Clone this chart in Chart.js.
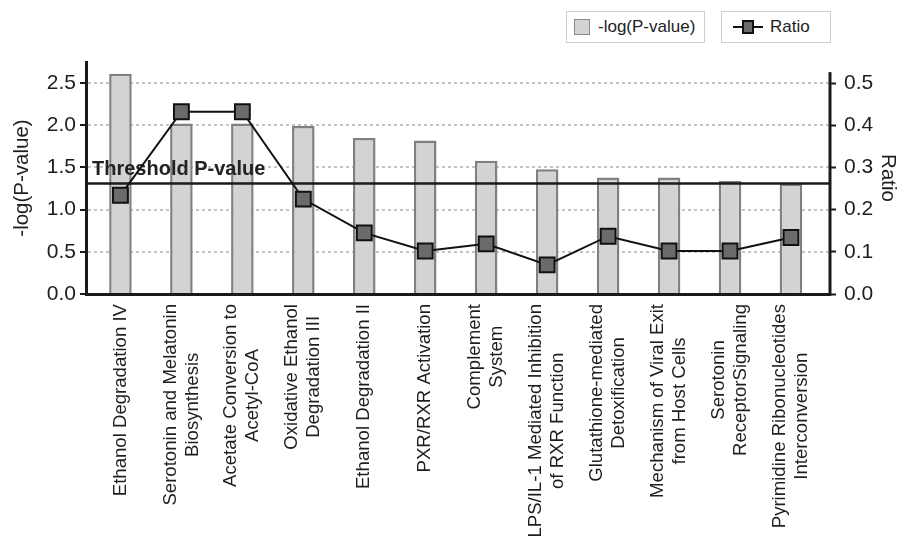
<!DOCTYPE html>
<html>
<head>
<meta charset="utf-8">
<script src="https://cdn.jsdelivr.net/npm/chart.js@4.4.1/dist/chart.umd.min.js"></script>
<style>
  html, body { margin: 0; padding: 0; background: #fff; }
  #wrap { position: relative; width: 900px; height: 540px; font-family: "Liberation Sans", Arial, sans-serif; }
  canvas { position: absolute; left: 0; top: 0; }
  .lg { position: absolute; top: 11px; height: 32px; border: 1.5px solid #cfcfcf; background: #fff;
        display: flex; align-items: center; font-size: 17px; color: #222; box-sizing: border-box; }
  .sw { width: 16px; height: 16px; background: #d3d3d3; border: 1.5px solid #8a8a8a; box-sizing: border-box; margin: 0 8px 0 7px; }
  .ln { position: relative; width: 30px; height: 16px; margin: 0 7px 0 11px; }
  .ln::before { content: ""; position: absolute; left: 0; right: 0; top: 7px; height: 2px; background: #111; }
  .ln::after { content: ""; position: absolute; left: 9px; top: 1px; width: 12px; height: 14px; background: #6b6b6b;
               border: 2px solid #111; box-sizing: border-box; }
</style>
</head>
<body>
<div id="wrap">
  <canvas id="chart" width="900" height="540"></canvas>
  <div class="lg" style="left:566px; width:139px;"><span class="sw"></span>-log(P-value)</div>
  <div class="lg" style="left:721px; width:110px;"><span class="ln"></span>Ratio</div>
</div>
<script>
// Canonical pathways, their -log(P-value) and the overlap ratio
const categories = [
  ['Ethanol Degradation IV'],
  ['Serotonin and Melatonin', 'Biosynthesis'],
  ['Acetate Conversion to', 'Acetyl-CoA'],
  ['Oxidative Ethanol', 'Degradation III'],
  ['Ethanol Degradation II'],
  ['PXR/RXR Activation'],
  ['Complement', 'System'],
  ['LPS/IL-1 Mediated Inhibition', 'of RXR Function'],
  ['Glutathione-mediated', 'Detoxification'],
  ['Mechanism of Viral Exit', 'from Host Cells'],
  ['Serotonin', 'ReceptorSignaling'],
  ['Pyrimidine Ribonucleotides', 'Interconversion']
];
const negLogP = [2.61, 2.02, 2.02, 1.99, 1.85, 1.82, 1.58, 1.48, 1.38, 1.38, 1.34, 1.31];
const ratio = [0.234, 0.432, 0.432, 0.225, 0.145, 0.102, 0.119, 0.069, 0.137, 0.102, 0.102, 0.134];
const thresholdP = 1.31;           // significance cut-off on the -log(P) axis
const leftAxisMax = 2.75;
const leftAxisStep = 0.5;
const rightAxisMax = 0.55;
const rightAxisStep = 0.1;
const rightAxisLineTop = 0.526;    // right spine stops a little below the plot top
// category slots run from index 0 to 11; the frame leaves a little more room on the right
const xMin = -0.565;
const xMax = categories.length - 1 + 0.64;

const FONT = '"Liberation Sans", Arial, sans-serif';
const INK = '#1e1e1e';

const overlay = {
  id: 'overlay',
  afterDatasetDraw(chart, args) {
    if (args.index !== 0) return;
    const { ctx, chartArea, scales } = chart;
    const py = scales.y.getPixelForValue(thresholdP);
    ctx.save();
    ctx.strokeStyle = '#1a1a1a';
    ctx.lineWidth = 2.5;
    ctx.beginPath();
    ctx.moveTo(chartArea.left, py);
    ctx.lineTo(chartArea.right, py);
    ctx.stroke();
    ctx.font = 'bold 20px ' + FONT;
    ctx.fillStyle = '#222';
    ctx.textAlign = 'left';
    ctx.textBaseline = 'alphabetic';
    ctx.fillText('Threshold P-value', chartArea.left + 6, py - 8);
    ctx.restore();
  },
  afterDraw(chart) {
    const { ctx, chartArea, scales } = chart;
    ctx.save();
    // right spine
    ctx.strokeStyle = '#1a1a1a';
    ctx.lineWidth = 3;
    ctx.beginPath();
    ctx.moveTo(chartArea.right, scales.y1.getPixelForValue(rightAxisLineTop));
    ctx.lineTo(chartArea.right, chartArea.bottom + 1.5);
    ctx.stroke();

    // vertical category labels, lines centred on each other
    ctx.font = '18.6px ' + FONT;
    ctx.fillStyle = INK;
    ctx.textBaseline = 'middle';
    ctx.textAlign = 'center';
    const lineH = 22;
    const top = chartArea.bottom + 10;
    categories.forEach((lines, i) => {
      const x = scales.x.getPixelForValue(i);
      const widest = Math.max(...lines.map(l => ctx.measureText(l).width));
      ctx.save();
      ctx.translate(x, top);
      ctx.rotate(-Math.PI / 2);
      lines.forEach((l, k) => {
        ctx.fillText(l, -widest / 2, (k - (lines.length - 1) / 2) * lineH);
      });
      ctx.restore();
    });
    ctx.restore();
  }
};

new Chart(document.getElementById('chart'), {
  data: {
    datasets: [
      {
        type: 'bar',
        label: '-log(P-value)',
        data: negLogP.map((v, i) => ({ x: i, y: v })),
        yAxisID: 'y',
        backgroundColor: '#d3d3d3',
        borderColor: '#808080',
        borderWidth: 2.5,
        categoryPercentage: 1,
        barPercentage: 0.37,
        order: 2
      },
      {
        type: 'line',
        label: 'Ratio',
        data: ratio.map((v, i) => ({ x: i, y: v })),
        yAxisID: 'y1',
        borderColor: '#111',
        borderWidth: 2,
        pointStyle: 'rect',
        pointRadius: 10.5,
        pointBackgroundColor: '#6b6b6b',
        pointBorderColor: '#111',
        pointBorderWidth: 2,
        tension: 0,
        order: 1
      }
    ]
  },
  options: {
    responsive: false,
    devicePixelRatio: 1,
    animation: false,
    layout: { padding: { top: 62, left: 0, right: 0, bottom: 0 } },
    plugins: { legend: { display: false }, tooltip: { enabled: false } },
    scales: {
      x: {
        type: 'linear',
        min: xMin,
        max: xMax,
        offset: false,
        grid: { display: false },
        border: { display: true, color: '#1a1a1a', width: 3 },
        ticks: { display: false },
        afterFit(s) { s.height = 246; }
      },
      y: {
        position: 'left',
        min: 0,
        max: leftAxisMax,
        ticks: {
          stepSize: leftAxisStep,
          includeBounds: false,
          padding: 4,
          color: INK,
          font: { family: FONT, size: 21 },
          callback: v => v.toFixed(1)
        },
        grid: {
          color: '#c4c4c4',
          lineWidth: 2,
          tickLength: 6,
          tickColor: '#1a1a1a',
          tickWidth: 2,
          tickBorderDash: []
        },
        border: { display: true, color: '#1a1a1a', width: 3, dash: [3, 3] },
        title: {
          display: true,
          text: '-log(P-value)',
          color: INK,
          font: { family: FONT, size: 20.5 },
          padding: { top: 10, bottom: 0 }
        },
        afterFit(s) { s.width = 86; }
      },
      y1: {
        position: 'right',
        min: 0,
        max: rightAxisMax,
        ticks: {
          stepSize: rightAxisStep,
          includeBounds: false,
          padding: 8,
          color: INK,
          font: { family: FONT, size: 21 },
          callback: v => v.toFixed(1)
        },
        grid: {
          drawOnChartArea: false,
          tickLength: 6,
          tickColor: '#1a1a1a',
          tickWidth: 2
        },
        border: { display: false },
        title: {
          display: true,
          text: 'Ratio',
          color: INK,
          font: { family: FONT, size: 20.5 },
          padding: { top: 0, bottom: 0 }
        },
        afterFit(s) { s.width = 70; }
      }
    }
  },
  plugins: [overlay]
});
</script>
</body>
</html>
